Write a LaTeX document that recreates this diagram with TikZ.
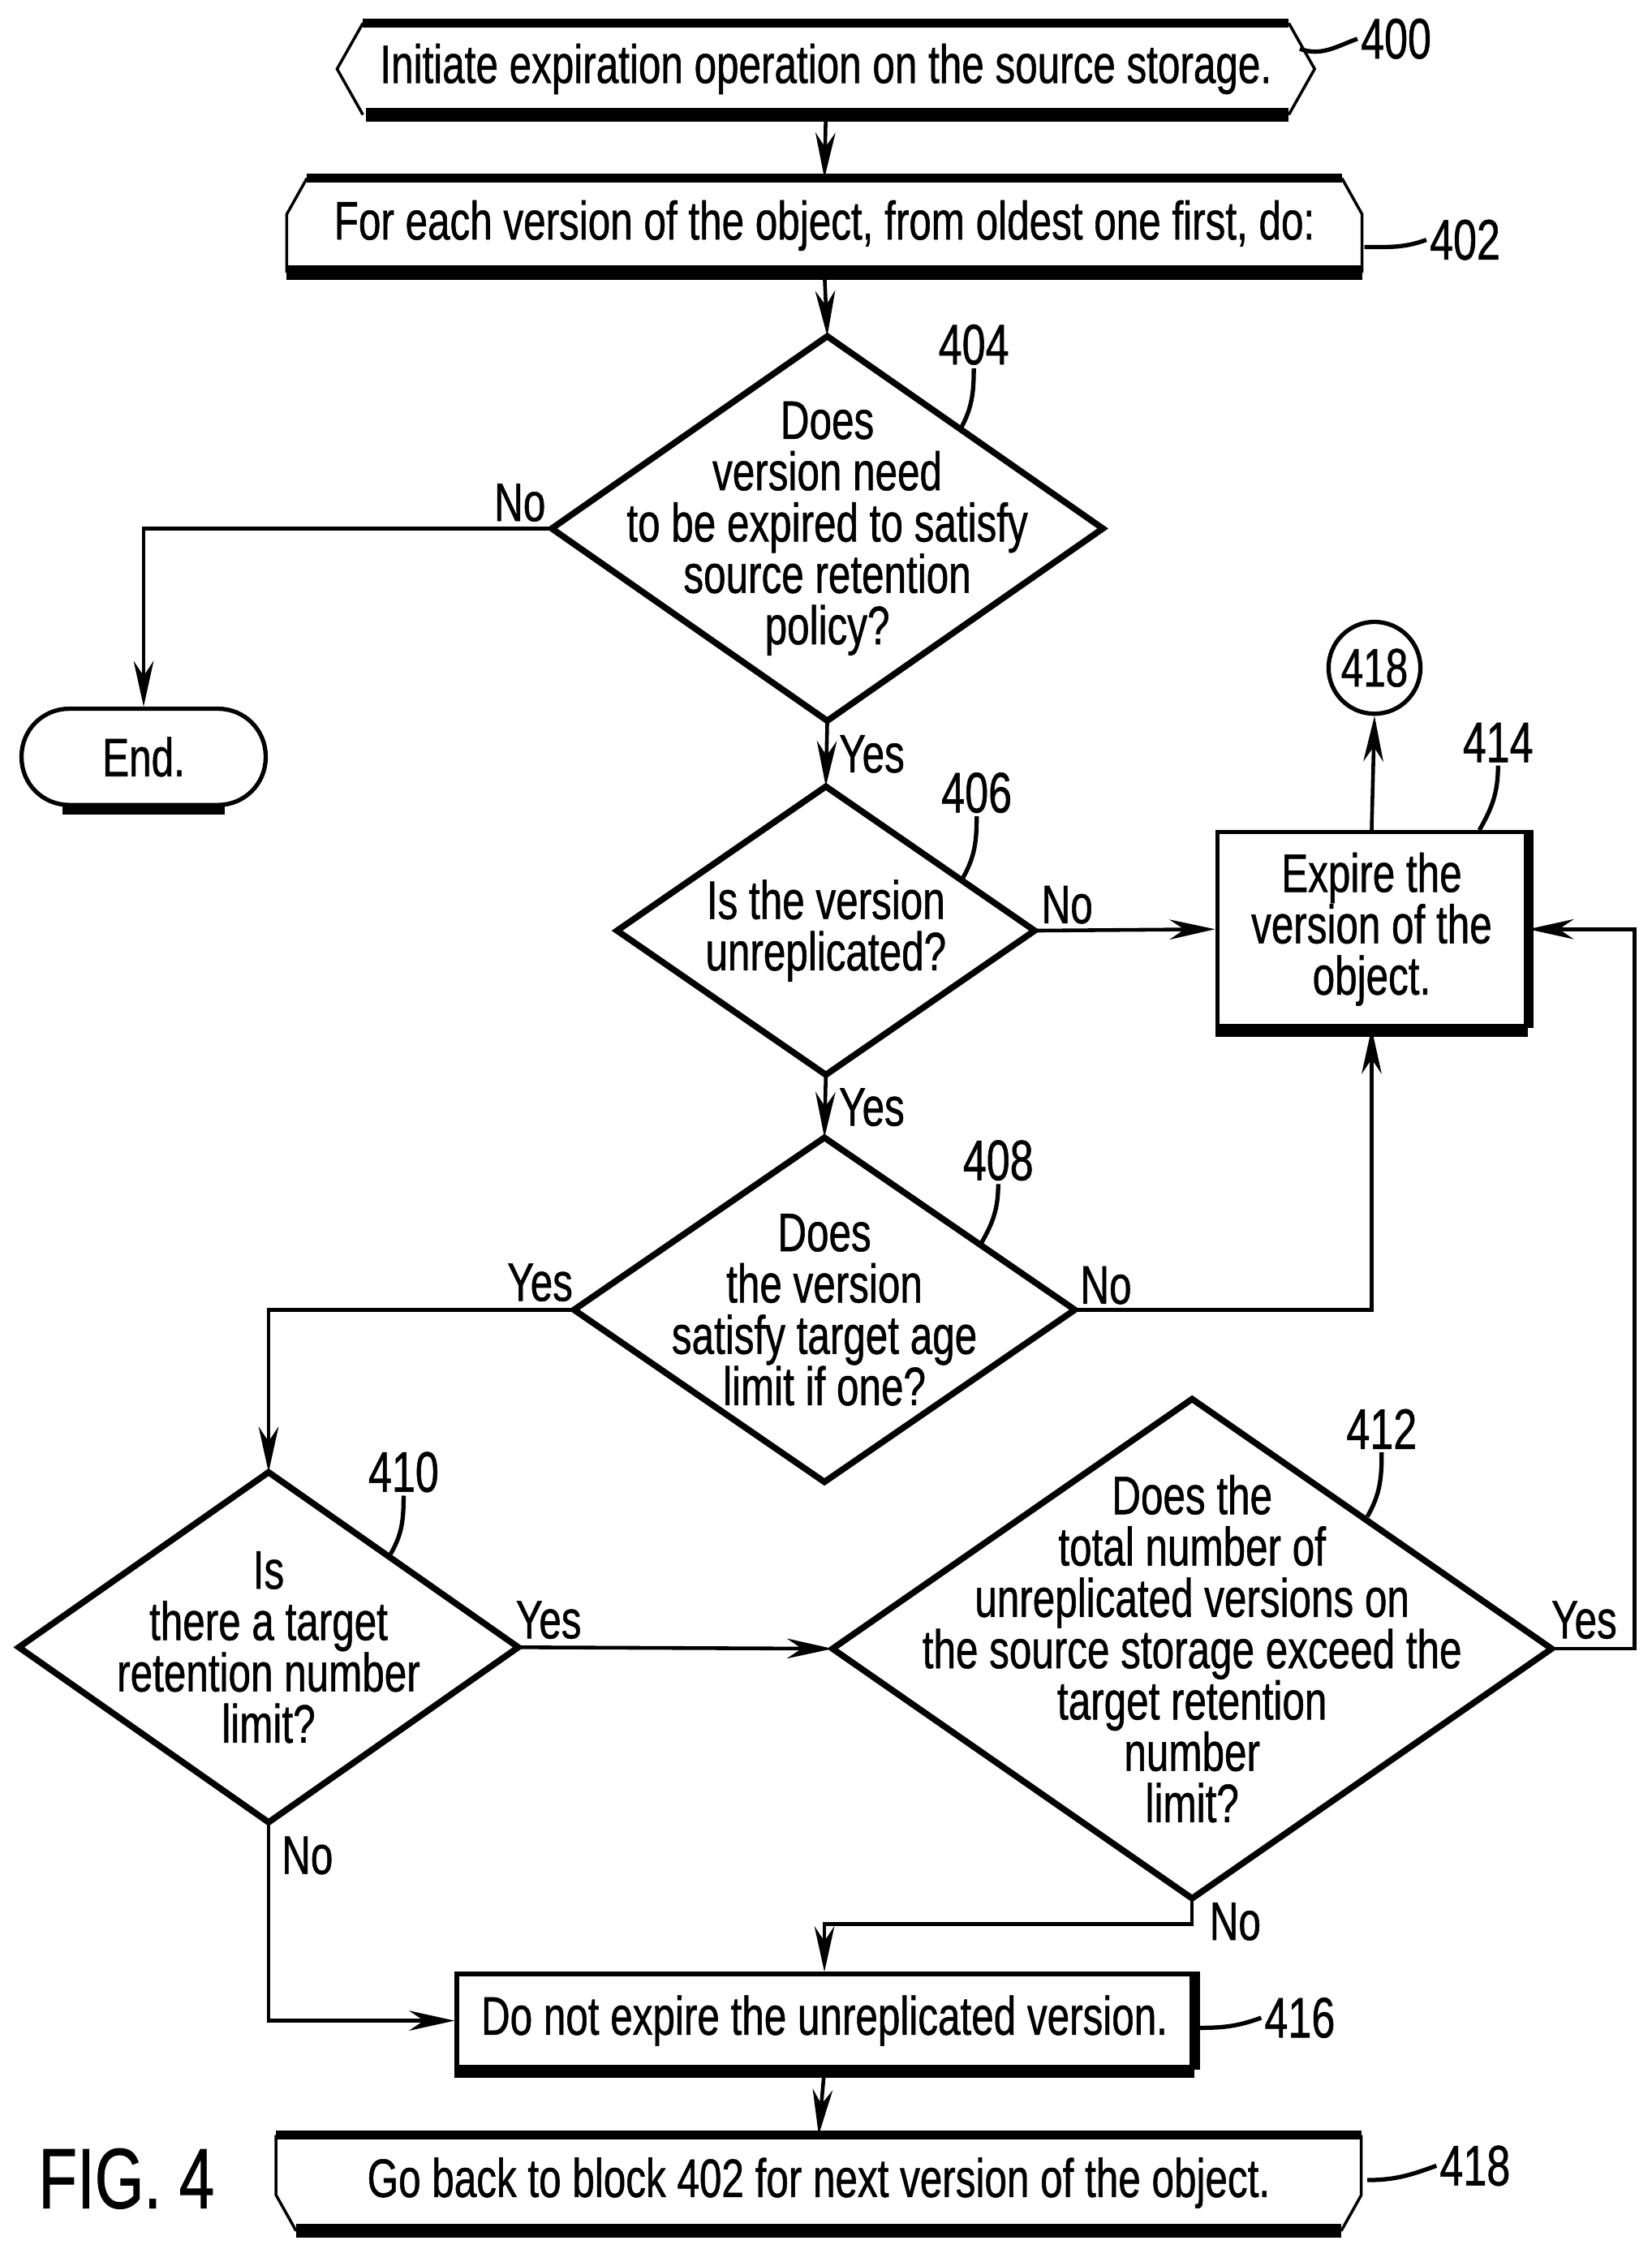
\documentclass[tikz,border=0pt]{standalone}
\usepackage{fontspec}
\setmainfont[FakeStretch=0.74,FakeBold=0.8]{Liberation Sans}
\usetikzlibrary{shapes,arrows.meta,positioning,calc}
\newcommand{\upx}{0.5035pt}
\tikzset{
  txt/.style={font=\fontsize{19}{18}\selectfont, align=center, inner sep=0pt},
  dec/.style={txt, rectangle},
  blk/.style={txt, draw, line width=1.5pt, rectangle},
  flow/.style={line width=1.3pt, -{Stealth[length=16pt,width=7pt]}},
  lbl/.style={font=\fontsize{19}{20}\selectfont, inner sep=1pt},
  refno/.style={font=\fontsize{20}{20}\selectfont, inner sep=1pt},
  lead/.style={line width=1.5pt}
}
\begin{document}
\begin{tikzpicture}[x=0.017696cm,y=-0.017696cm]
  \useasboundingbox (0,0) rectangle (1150,1566);

  % Start and loop blocks
  \node[txt, minimum width=680*\upx, minimum height=63*\upx] (n400) at (575,48) {Initiate expiration operation on the source storage.};
  \draw[line width=1pt] ($(n400.north west)+(18,0)$) -- ($(n400.west)$) -- ($(n400.south west)+(18,0)$);
  \draw[line width=1pt] ($(n400.north east)+(-18,0)$) -- ($(n400.east)$) -- ($(n400.south east)+(-18,0)$);
  \draw[line width=3pt] ($(n400.north west)+(18,0)$) -- ($(n400.north east)+(-18,0)$);
  \draw[line width=5pt] ($(n400.south west)+(20,0)$) -- ($(n400.south east)+(-18,0)$);

  \node[txt, minimum width=748*\upx, minimum height=65*\upx] (n402) at (574,157) {For each version of the object, from oldest one first, do:};
  \draw[line width=1pt] ($(n402.north west)+(14,0)$) -- ($(n402.north west)+(0,25)$) -- (n402.south west);
  \draw[line width=1pt] ($(n402.north east)+(-14,0)$) -- ($(n402.north east)+(0,25)$) -- (n402.south east);
  \draw[line width=3pt] ($(n402.north west)+(14,0)$) -- ($(n402.north east)+(-14,0)$);
  \draw[line width=5pt] (n402.south west) -- (n402.south east);

  % Decisions
  \node[dec, minimum width=383*\upx, minimum height=267*\upx] (d404) at (576,368) {Does\\version need\\to be expired to satisfy\\source retention\\policy?};
  \node[dec, minimum width=290*\upx, minimum height=200*\upx] (d406) at (575,648) {Is the version\\unreplicated?};
  \node[dec, minimum width=348*\upx, minimum height=239*\upx] (d408) at (574,912) {Does\\the version\\satisfy target age\\limit if one?};
  \node[dec, minimum width=347*\upx, minimum height=243*\upx] (d410) at (187,1147) {Is\\there a target\\retention number\\limit?};
  \node[dec, minimum width=500*\upx, minimum height=347*\upx] (d412) at (830,1148) {Does the\\total number of\\unreplicated versions on\\the source storage exceed the\\target retention\\number\\limit?};
  \foreach \d in {d404,d406,d408,d410,d412}
    \draw[line width=2.2pt, line join=miter] (\d.north) -- (\d.east) -- (\d.south) -- (\d.west) -- cycle;

  % Terminal, connector, process blocks
  \node[txt, draw, line width=1.5pt, rounded corners=33*\upx, minimum width=170*\upx, minimum height=67*\upx] (end) at (100,527) {End.};
  \draw[line width=4pt] ($(end.south west)+(30,1)$) -- ($(end.south east)+(-30,1)$);
  \node[txt, draw, line width=1.5pt, circle, minimum size=64*\upx] (c418) at (957,465) {418};
  \node[blk, minimum width=215*\upx, minimum height=135*\upx] (b414) at (955,647) {Expire the\\version of the\\object.};
  \node[blk, minimum width=512*\upx, minimum height=65*\upx] (b416) at (574,1407) {Do not expire the unreplicated version.};
  \foreach \b in {b414,b416} {
    \draw[line width=4pt] ($(\b.south west)+(0,2)$) -- ($(\b.south east)+(0,2)$);
    \draw[line width=3pt] ($(\b.north east)+(1,0)$) -- ($(\b.south east)+(1,0)$);
  }

  \node[txt, minimum width=755*\upx, minimum height=66*\upx] (n418) at (570,1520) {Go back to block 402 for next version of the object.};
  \draw[line width=1pt] (n418.north west) -- ($(n418.south west)+(0,-25)$) -- ($(n418.south west)+(14,0)$);
  \draw[line width=1pt] (n418.north east) -- ($(n418.south east)+(0,-25)$) -- ($(n418.south east)+(-14,0)$);
  \draw[line width=3pt] (n418.north west) -- (n418.north east);
  \draw[line width=5pt] ($(n418.south west)+(14,0)$) -- ($(n418.south east)+(-14,0)$);

  \node[font=\fontsize{30}{30}\selectfont, inner sep=0pt] (fig) at (88,1517) {FIG. 4};

  % Connectors
  \draw[flow] (n400.south) -- (n402.north);
  \draw[flow] (n402.south) -- (d404.north);
  \draw[flow] (d404.west) -| (end.north);
  \draw[flow] (d404.south) -- (d406.north);
  \draw[flow] (d406.east) -- (b414.west);
  \draw[flow] (b414.north) -- (c418.south);
  \draw[flow] (d406.south) -- (d408.north);
  \draw[flow] (d408.east) -| (b414.south);
  \draw[flow] (d408.west) -| (d410.north);
  \draw[flow] (d410.east) -- (d412.west);
  \draw[flow] (d410.south) |- (b416.west);
  \coordinate (k412) at ($(d412.south)+(0,18)$);
  \draw[flow] (d412.south) -- (k412) -| (b416.north);
  \coordinate (k414) at (1138,1148);
  \draw[flow] (d412.east) -- (k414) |- (b414.east);
  \draw[flow] (b416.south) -- (n418.north);

  % Yes / No
  \node[lbl] at (362,350) {No};
  \node[lbl] at (607,525) {Yes};
  \node[lbl] at (743,630) {No};
  \node[lbl] at (607,771) {Yes};
  \node[lbl] at (770,895) {No};
  \node[lbl] at (376,893) {Yes};
  \node[lbl] at (382,1128) {Yes};
  \node[lbl] at (214,1292) {No};
  \node[lbl] at (860,1338) {No};
  \node[lbl] at (1103,1128) {Yes};

  % Reference numbers
  \node[refno] (r400) at (972,27) {400};
  \draw[lead] (905,34) to[out=-20,in=200] (r400.west);
  \node[refno] (r402) at (1020,167) {402};
  \draw[lead] (950,172) to[out=0,in=200] (r402.west);
  \node[refno] (r404) at (678,240) {404};
  \draw[lead] (668,300) to[out=60,in=-90] (r404.south);
  \node[refno] (r406) at (680,552) {406};
  \draw[lead] (670,612) to[out=60,in=-90] (r406.south);
  \node[refno] (r408) at (695,808) {408};
  \draw[lead] (683,866) to[out=60,in=-90] (r408.south);
  \node[refno] (r410) at (281,1025) {410};
  \draw[lead] (272,1082) to[out=60,in=-90] (r410.south);
  \node[refno] (r412) at (962,995) {412};
  \draw[lead] (952,1056) to[out=60,in=-90] (r412.south);
  \node[refno] (r414) at (1043,517) {414};
  \draw[lead] (1030,578) to[out=60,in=-90] (r414.south);
  \node[refno] (r416) at (905,1405) {416};
  \draw[lead] (835,1412) to[out=0,in=200] (r416.west);
  \node[refno] (r418) at (1027,1508) {418};
  \draw[lead] (952,1518) to[out=0,in=200] (r418.west);
\end{tikzpicture}
\end{document}
